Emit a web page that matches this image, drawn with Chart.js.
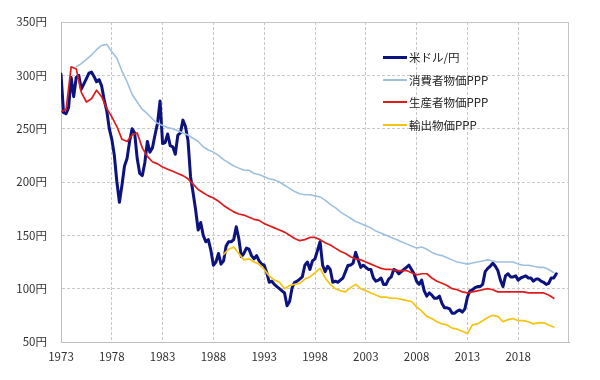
<!DOCTYPE html>
<html><head><meta charset="utf-8">
<script src="https://cdn.jsdelivr.net/npm/chart.js@4.4.0/dist/chart.umd.min.js"></script>
<style>
html,body{margin:0;padding:0;background:#fff;}
#wrap{position:relative;width:600px;height:380px;overflow:hidden;}
canvas{display:block;}
.lg{position:absolute;left:383px;height:16px;display:flex;align-items:center;white-space:nowrap;
 font:11.5px "Noto Sans CJK JP","Noto Sans",sans-serif;color:#222;}
.lg i{display:inline-block;width:24px;margin-right:2px;}
</style></head><body>
<div id="wrap"><canvas id="c" width="600" height="380"></canvas><div id="legend"></div></div>
<script>
// tick labels
const xTicks = [1973,1978,1983,1988,1993,1998,2003,2008,2013,2018];
const yTicks = [50,100,150,200,250,300,350];

// series names
const seriesNames = ['米ドル/円','消費者物価PPP','生産者物価PPP','輸出物価PPP'];

// 米ドル/円 (quarterly from 1973.0)
const usdStart = 1973, usdStep = 0.25;
const usdJpy = [
301,265,264,270, 298,280,298,300, 287,292,297,302, 303,299,294,296,
290,277,267,250, 240,225,200,181, 197,215,222,238, 250,246,222,208,
206,218,238,228, 232,244,255,276, 236,237,245,234, 233,226,244,246,
258,252,239,205, 190,174,155,162, 150,144,146,136, 122,125,133,123,
126,140,144,144, 146,158,147,130, 133,138,137,131, 128,131,126,123,
122,115,106,107, 104,102,100,98, 96,84,88,101, 106,107,109,111,
122,125,118,126, 128,136,144,122, 116,121,118,106, 107,106,108,110,
116,122,122,124, 134,127,120,122, 120,118,118,110, 107,108,110,104,
104,109,111,118, 117,114,116,118, 120,122,118,114, 107,104,108,98,
93,96,94,91, 91,93,86,82, 82,81,77,77, 79,80,78,81,
92,98,99,101, 102,102,104,116, 119,121,124,121, 117,108,102,112,
114,111,111,112, 108,110,111,112, 110,110,107,109, 109,107,106,104,
105,110,110,114
];

// 消費者物価PPP (half-yearly from 1974.5)
const cpiStart = 1974.5, cpiStep = 0.5;
const cpiPPP = [
308, 311,315, 319,324, 328,329, 322,316, 304,294, 282,275, 268,264, 259,255,
253,251, 250,248, 246,244, 241,238, 233,230, 228,225, 221,218, 215,213, 211,211,
208,207, 205,203, 202,200, 197,194, 191,189, 188,188, 187,186, 183,179, 176,172,
169,166, 163,161, 159,157, 154,152, 150,148, 146,144, 142,140, 138,139, 137,134,
132,131, 129,127, 125,124, 123,124, 125,126, 127,126, 125,125, 125,125, 123,122,
122,121, 120,120, 118,115
];

// 生産者物価PPP (half-yearly from 1973.0)
const ppiStart = 1973, ppiStep = 0.5;
const ppiPPP = [
266,268, 308,306, 284,275, 278,286, 280,269, 261,252, 240,238, 244,246, 232,224,
219,217, 214,212, 210,208, 206,203, 198,193, 190,187, 185,182, 178,175, 172,170,
169,167, 165,164, 161,159, 157,155, 153,150, 147,145, 146,148, 148,146, 143,141,
138,135, 133,130, 128,127, 125,123, 121,119, 118,118, 117,117, 117,115, 113,114,
114,110, 107,105, 103,100, 99,97, 96,97, 98,99, 100,99, 97,97, 97,97, 97,97,
96,96, 96,96, 94,91
];

// 輸出物価PPP (half-yearly from 1989.0)
const expStart = 1989, expStep = 0.5;
const expPPP = [
132,137, 139,133, 127,128, 125,123, 118,112, 108,106, 100,103, 104,105, 109,111,
115,119, 110,104, 100,98, 97,101, 104,100, 98,96, 94,92, 92,91, 91,90, 89,88,
83,79, 74,72, 69,67, 66,63, 62,60, 58,66, 67,70, 73,75, 74,69, 71,72, 70,70,
69,67, 68,68, 66,64
];

const toXY = (start, step, arr) => arr.map((v, i) => ({x: start + i * step, y: v}));

const styles = [
  {color:'#0c137e', width:3},
  {color:'#9fc0de', width:1.6},
  {color:'#e01b1b', width:1.7},
  {color:'#f5c411', width:1.7}
];
const raw = [
  toXY(usdStart, usdStep, usdJpy),
  toXY(cpiStart, cpiStep, cpiPPP),
  toXY(ppiStart, ppiStep, ppiPPP),
  toXY(expStart, expStep, expPPP)
];
const orders = [3,2,1,0];

const datasets = raw.map((d, i) => ({
  label: seriesNames[i], data: d, borderColor: styles[i].color, borderWidth: styles[i].width,
  pointRadius: 0, tension: 0, fill: false, order: orders[i], borderJoinStyle:'round', borderCapStyle:'round'
}));

const font = {family:'"Noto Sans CJK JP","Noto Sans",sans-serif', size:11.5};

const frame = {
  id:'frame',
  beforeDatasetsDraw(chart){
    const {ctx, chartArea:a} = chart;
    ctx.save();
    ctx.strokeStyle = '#c4c4c4'; ctx.lineWidth = 1; ctx.setLineDash([]);
    ctx.beginPath();
    ctx.moveTo(a.left, a.top + 0.5); ctx.lineTo(a.right - 0.5, a.top + 0.5); ctx.lineTo(a.right - 0.5, a.bottom);
    ctx.stroke();
    ctx.restore();
  }
};

new Chart(document.getElementById('c'), {
  type:'line',
  data:{datasets},
  options:{
    responsive:false, animation:false, devicePixelRatio:1,
    layout:{padding:{top:22, right:31, bottom:0, left:0}},
    plugins:{legend:{display:false}, tooltip:{enabled:false}},
    scales:{
      x:{type:'linear', min:1973, max:2023,
        afterBuildTicks:s=>{ s.ticks = xTicks.map(v=>({value:v})); },
        afterFit:s=>{ s.height = 38; },
        grid:{color:'#c8c8c8', drawTicks:false, lineWidth:1},
        border:{display:true, color:'#bdbdbd', dash:[3,2]},
        ticks:{padding:8, color:'#333', font, maxRotation:0, autoSkip:false, callback:v=>String(v)}
      },
      y:{type:'linear', min:50, max:350,
        afterBuildTicks:s=>{ s.ticks = yTicks.map(v=>({value:v})); },
        afterFit:s=>{ s.width = 61; },
        grid:{color:'#c8c8c8', drawTicks:false, lineWidth:1},
        border:{display:true, color:'#bdbdbd', dash:[3,2]},
        ticks:{padding:14, color:'#333', font, callback:v=>v+'円'}
      }
    }
  },
  plugins:[frame]
});

// HTML legend
const legendRows = [57, 79.5, 102, 125];
const lgW = [3, 2, 2, 2];
const lg = document.getElementById('legend');
seriesNames.forEach((n, i) => {
  const d = document.createElement('div');
  d.className = 'lg';
  d.style.top = (legendRows[i] - 8) + 'px';
  const m = document.createElement('i');
  m.style.height = lgW[i] + 'px';
  m.style.background = styles[i].color;
  d.appendChild(m);
  d.appendChild(document.createTextNode(n));
  lg.appendChild(d);
});
</script>
</body></html>
